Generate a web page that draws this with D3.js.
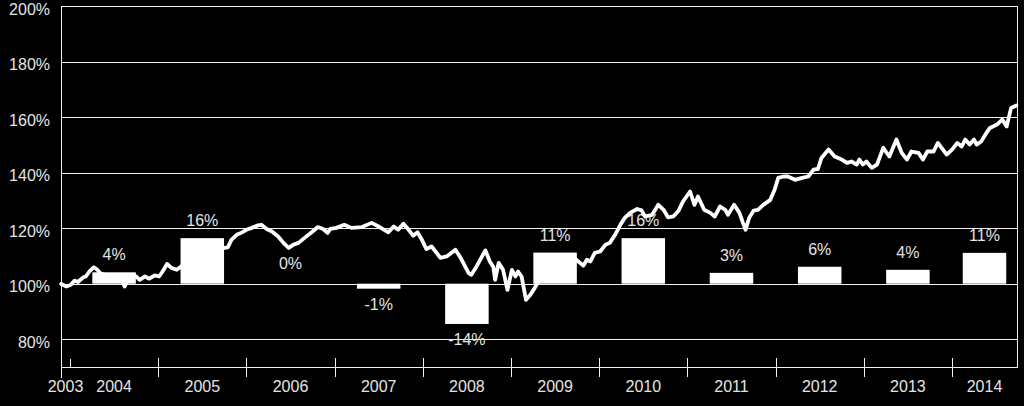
<!DOCTYPE html>
<html>
<head>
<meta charset="utf-8">
<script src="https://cdn.jsdelivr.net/npm/d3@7"></script>
<style>
  html, body { margin: 0; padding: 0; background: #000; }
  svg { display: block; }
  text { font-family: "Liberation Sans", Arial, sans-serif; font-size: 16px; fill: #e4e4e4; }
</style>
</head>
<body>
<svg id="chart" width="1024" height="406"></svg>
<script>
// ---- data ----
const yTickValues = [80, 100, 120, 140, 160, 180, 200];
const axisYears = [2003, 2004, 2005, 2006, 2007, 2008, 2009, 2010, 2011, 2012, 2013, 2014];
const barYears = [2004, 2005, 2006, 2007, 2008, 2009, 2010, 2011, 2012, 2013, 2014];
const barValues = [4.1, 16.4, 0, -1.8, -14.5, 11.2, 16.4, 3.9, 6.1, 5.0, 11.1];
const barLabels = ["4%", "16%", "0%", "-1%", "-14%", "11%", "16%", "3%", "6%", "4%", "11%"];
const lineTimes = [
  2003.90, 2003.96, 2004.01, 2004.05, 2004.09, 2004.15, 2004.18, 2004.22, 2004.27, 2004.31,
  2004.35, 2004.43, 2004.51, 2004.58, 2004.62, 2004.66, 2004.70, 2004.75, 2004.79, 2004.85,
  2004.90, 2004.96, 2005.01, 2005.05, 2005.10, 2005.15, 2005.21, 2005.26, 2005.36, 2005.47,
  2005.59, 2005.70, 2005.79, 2005.83, 2005.89, 2005.94, 2006.00, 2006.06, 2006.13, 2006.17,
  2006.23, 2006.29, 2006.36, 2006.42, 2006.48, 2006.53, 2006.59, 2006.66, 2006.74, 2006.81,
  2006.87, 2006.92, 2006.95, 2007.02, 2007.11, 2007.19, 2007.31, 2007.42, 2007.51, 2007.61,
  2007.67, 2007.72, 2007.78, 2007.84, 2007.89, 2007.94, 2007.99, 2008.04, 2008.10, 2008.20,
  2008.27, 2008.37, 2008.42, 2008.52, 2008.55, 2008.61, 2008.65, 2008.71, 2008.76, 2008.80,
  2008.82, 2008.86, 2008.91, 2008.96, 2009.01, 2009.05, 2009.08, 2009.12, 2009.17, 2009.22,
  2009.27, 2009.31, 2009.42, 2009.53, 2009.65, 2009.73, 2009.82, 2009.86, 2009.90, 2009.95,
  2010.01, 2010.07, 2010.12, 2010.18, 2010.24, 2010.29, 2010.35, 2010.43, 2010.48, 2010.52,
  2010.60, 2010.67, 2010.73, 2010.78, 2010.84, 2010.90, 2010.95, 2011.03, 2011.08, 2011.12,
  2011.19, 2011.26, 2011.31, 2011.37, 2011.43, 2011.46, 2011.53, 2011.59, 2011.63, 2011.66,
  2011.70, 2011.75, 2011.80, 2011.86, 2011.94, 2011.99, 2012.03, 2012.09, 2012.14, 2012.22,
  2012.30, 2012.37, 2012.43, 2012.48, 2012.52, 2012.60, 2012.67, 2012.75, 2012.81, 2012.86,
  2012.92, 2012.95, 2012.99, 2013.03, 2013.09, 2013.15, 2013.22, 2013.29, 2013.37, 2013.43,
  2013.49, 2013.54, 2013.62, 2013.67, 2013.72, 2013.79, 2013.84, 2013.94, 2014.00, 2014.06,
  2014.11, 2014.15, 2014.20, 2014.25, 2014.28, 2014.33, 2014.39, 2014.43, 2014.51, 2014.57,
  2014.62, 2014.67, 2014.73
];
const lineValues = [
  99.9, 99.0, 99.6, 101.1, 100.6, 102.3, 102.6, 104.4, 105.9, 105.0,
  103.6, 102.9, 102.2, 101.8, 99.0, 101.8, 102.9, 102.6, 101.4, 102.6,
  101.8, 103.0, 102.6, 104.4, 107.1, 105.7, 105.0, 106.2, 107.9, 109.7,
  111.2, 112.6, 113.1, 115.8, 117.6, 118.3, 119.4, 120.1, 121.0, 121.2,
  119.7, 118.8, 117.0, 114.7, 112.9, 114.0, 114.7, 116.5, 118.5, 120.4,
  119.7, 118.3, 119.7, 120.1, 121.2, 120.1, 120.4, 121.9, 120.4, 118.5,
  120.6, 119.4, 121.6, 119.4, 117.3, 118.5, 115.8, 112.5, 113.4, 109.3,
  109.8, 112.2, 109.8, 103.8, 103.2, 106.2, 108.6, 112.0, 108.0, 106.0,
  101.4, 107.5, 105.0, 97.8, 105.0, 102.6, 104.4, 102.6, 94.2, 96.0,
  98.5, 100.8, 103.2, 105.8, 107.9, 108.9, 106.5, 108.6, 108.0, 111.1,
  111.6, 114.0, 114.7, 117.6, 121.2, 123.7, 125.5, 126.9, 126.4, 124.2,
  124.8, 128.4, 126.6, 123.9, 124.2, 126.3, 129.6, 133.2, 128.4, 131.4,
  126.6, 125.5, 124.2, 127.8, 126.6, 124.8, 128.4, 125.5, 121.9, 119.4,
  123.7, 126.3, 126.6, 128.4, 130.2, 133.9, 138.1, 138.6, 138.6, 137.4,
  138.1, 138.6, 141.1, 141.3, 145.3, 148.3, 145.8, 144.7, 143.5, 144.0,
  142.9, 144.7, 142.9, 144.0, 141.7, 142.9, 148.9, 145.8, 151.9, 147.1,
  144.7, 147.6, 147.1, 144.7, 147.6, 147.6, 150.7, 146.5, 148.3, 150.7,
  149.4, 151.9, 150.1, 151.9, 150.1, 151.2, 154.3, 156.1, 157.3, 159.1,
  156.6, 163.3, 164.2
];

// ---- layout ----
const svg = d3.select("#chart");
const plotLeft = 61, plotRight = 1017, plotTop = 6, plotBottom = 367;
const xStart = 2003.898, xEnd = 2014.737;

const x = d3.scaleLinear().domain([xStart, xEnd]).range([plotLeft, plotRight]);
const y = d3.scaleLinear().domain([70, 200]).range([plotBottom, plotTop]);

const segCenter = yr => (x(Math.max(yr, xStart)) + x(Math.min(yr + 1, xEnd))) / 2;

// gridlines + y labels
const yAxis = d3.axisLeft(y)
  .tickValues(yTickValues)
  .tickFormat(d => d + "%")
  .tickSize(-(plotRight - plotLeft))
  .tickSizeOuter(0)
  .tickPadding(11);

const gy = svg.append("g").attr("transform", `translate(${plotLeft},0)`).call(yAxis);
gy.select(".domain").remove();
gy.selectAll(".tick line").attr("stroke", "#f2f2f2").attr("stroke-width", 1).attr("shape-rendering", "crispEdges");
gy.selectAll(".tick text").attr("dy", "0.5em").attr("fill", "#e4e4e4")
  .style("font-size", "16px").style("font-family", "'Liberation Sans', Arial, sans-serif");

// frame: left axis, right border, bottom axis
const frame = svg.append("g").attr("stroke", "#f2f2f2").attr("stroke-width", 1).attr("shape-rendering", "crispEdges");
frame.append("line").attr("x1", plotLeft + 0.5).attr("x2", plotLeft + 0.5).attr("y1", y(200)).attr("y2", plotBottom + 11);
frame.append("line").attr("x1", plotRight + 0.5).attr("x2", plotRight + 0.5).attr("y1", y(200)).attr("y2", plotBottom);
frame.append("line").attr("x1", plotLeft).attr("x2", plotRight + 1).attr("y1", plotBottom + 0.5).attr("y2", plotBottom + 0.5);

// year boundary ticks
axisYears.slice(1).forEach(yr => {
  const xx = Math.round(x(yr)) + 0.5;
  frame.append("line")
    .attr("x1", xx).attr("x2", xx)
    .attr("y1", yr === 2004 ? plotBottom - 8 : plotBottom - 9)
    .attr("y2", yr === 2004 ? plotBottom : plotBottom + 10);
});

// year labels
svg.append("g").selectAll("text").data(axisYears).join("text")
  .attr("x", d => segCenter(d))
  .attr("y", 392)
  .attr("text-anchor", "middle")
  .text(d => d);

// bars
const barW = 43.5;
const bars = barYears.map((yr, i) => ({ yr, v: barValues[i], label: barLabels[i] }));
svg.append("g").selectAll("rect").data(bars.filter(d => d.v !== 0)).join("rect")
  .attr("x", d => segCenter(d.yr) - barW / 2)
  .attr("width", barW)
  .attr("y", d => y(100 + Math.max(0, d.v)))
  .attr("height", d => Math.abs(y(100) - y(100 + d.v)))
  .attr("fill", "#ffffff");

// bar labels
svg.append("g").selectAll("text").data(bars).join("text")
  .attr("x", d => segCenter(d.yr))
  .attr("y", d => d.v > 0 ? y(100 + d.v) - 12 : (d.v === 0 ? y(100) - 15 : y(100 + d.v) + 21))
  .attr("text-anchor", "middle")
  .text(d => d.label);

// performance line
const pts = lineTimes.map((t, i) => [t, lineValues[i]]);
svg.append("path")
  .datum(pts)
  .attr("fill", "none")
  .attr("stroke", "#ffffff")
  .attr("stroke-width", 3.8)
  .attr("stroke-linejoin", "round")
  .attr("stroke-linecap", "round")
  .attr("d", d3.line().x(d => x(d[0])).y(d => y(d[1])));
</script>
</body>
</html>
